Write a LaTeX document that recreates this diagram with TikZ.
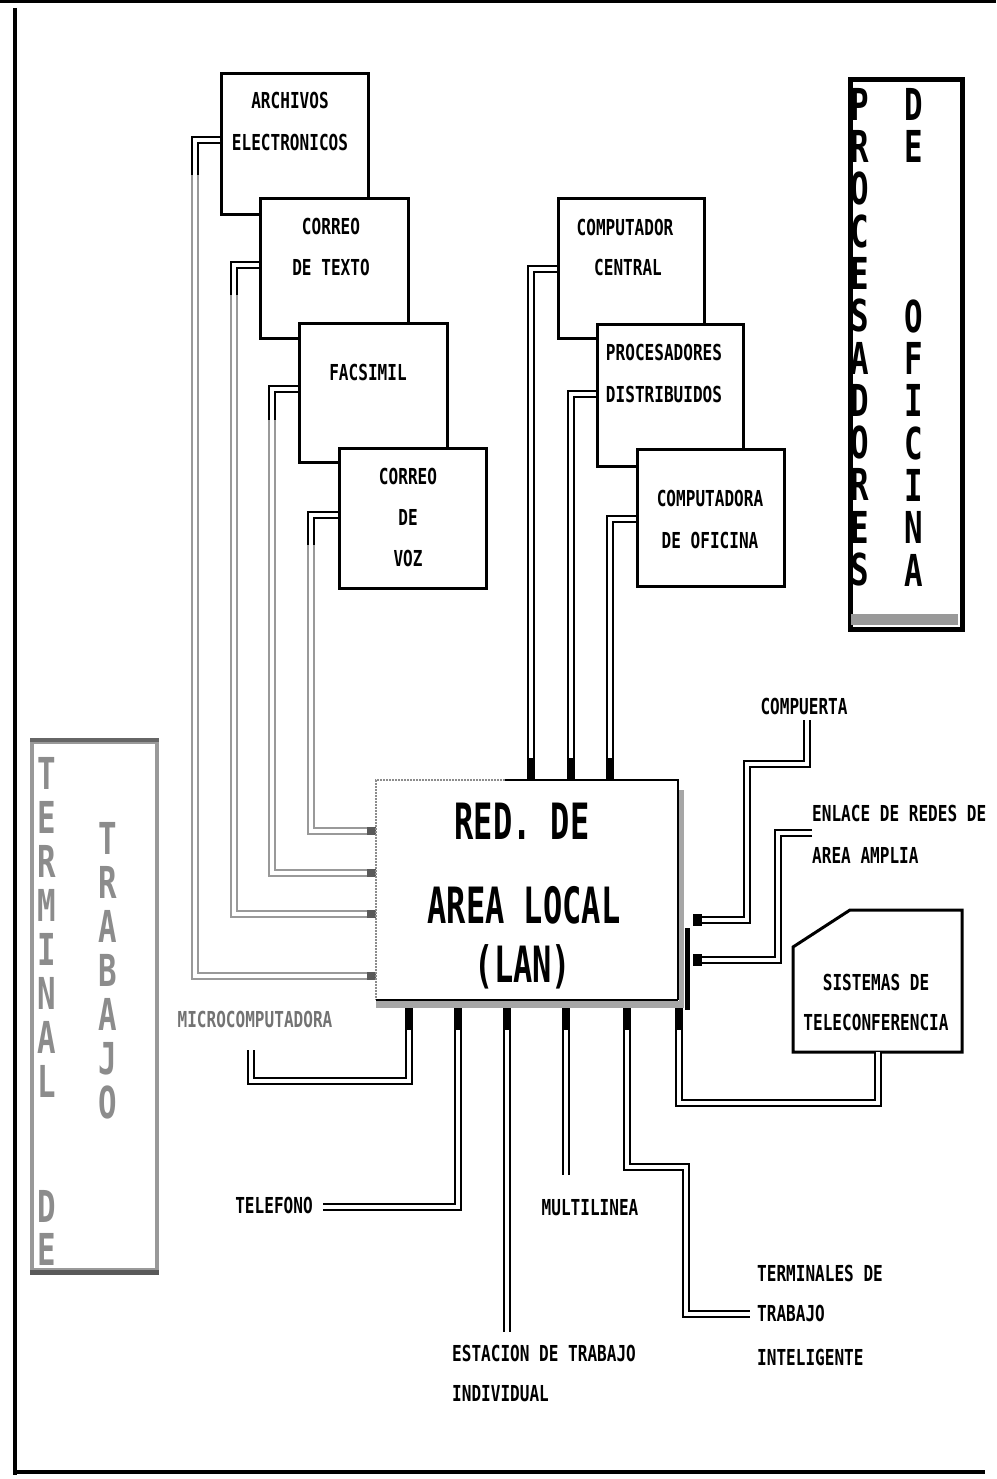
\documentclass[tikz,border=0pt]{standalone}
\usepackage{fontspec}
\newfontfamily\smallf{DejaVu Sans Mono}[FakeStretch=0.73]
\newfontfamily\bigf{DejaVu Sans Mono}[FakeStretch=0.64]
\newfontfamily\vertf{DejaVu Sans Mono}[FakeStretch=0.7]
\begin{document}
\begin{tikzpicture}[x=1pt,y=-1pt,
  lbl/.style={font=\smallf\bfseries\fontsize{22}{22}\selectfont, inner sep=0pt, text height=16pt, text depth=0pt},
  biglbl/.style={font=\bigf\bfseries\fontsize{50}{50}\selectfont, inner sep=0pt, text height=36.5pt, text depth=0pt},
  vcol/.style={font=\vertf\bfseries\fontsize{44}{42.3}\selectfont, inner sep=0pt, anchor=north, align=center},
  boxa/.style={draw, line width=3pt, fill=white, inner sep=0pt, anchor=north west},
  dblk/.style={draw=black, double=white, line width=1.4pt, double distance=4.5pt},
  dblg/.style={dblk, draw=black!40},
  endmark/.style={fill=black!65},
  stubb/.style={fill=black}]
\useasboundingbox (0,0) rectangle (996,1479);
% outer frame
\draw[line width=3pt] (0,2) -- (996,2);
\draw[line width=4pt] (15,8) -- (15,1475);
\draw[line width=4pt] (13,1472) -- (985,1472);

% left group of boxes
\node[boxa, minimum width=147pt, minimum height=141pt] (arch) at (220,72) {};
\node[boxa, minimum width=148pt, minimum height=140pt] (ctex) at (259,197) {};
\node[boxa, minimum width=148pt, minimum height=139pt] (facs) at (298,322) {};
\node[boxa, minimum width=147pt, minimum height=140pt] (cvoz) at (338,447) {};
% right group of boxes
\node[boxa, minimum width=146pt, minimum height=140pt] (ccen) at (557,197) {};
\node[boxa, minimum width=146pt, minimum height=142pt] (pdis) at (596,323) {};
\node[boxa, minimum width=147pt, minimum height=137pt] (cofi) at (636,448) {};

% LAN box (fill)
\node[draw=none, fill=white, minimum width=302pt, minimum height=220pt, anchor=north west, inner sep=0pt] (lan) at (376,780) {};

% left connectors (gray)
\draw[dblg] (arch.west |- 0,140) -| (195,976) -- (lan.west |- 0,976);
\draw[dblg] (ctex.west |- 0,265) -| (234,914) -- (lan.west |- 0,914);
\draw[dblg] (facs.west |- 0,389) -| (272,873) -- (lan.west |- 0,873);
\draw[dblg] (cvoz.west |- 0,515) -| (311,831) -- (lan.west |- 0,831);
\draw[dblk] (arch.west |- 0,140) -| (195,175);
\draw[dblk] (ctex.west |- 0,265) -| (234,295);
\draw[dblk] (facs.west |- 0,389) -| (272,420);
\draw[dblk] (cvoz.west |- 0,515) -| (311,545);
\fill[endmark] (367,972.3) rectangle (376,979.7);
\fill[endmark] (367,910.3) rectangle (376,917.7);
\fill[endmark] (367,869.3) rectangle (376,876.7);
\fill[endmark] (367,827.3) rectangle (376,834.7);

% right top connectors
\draw[dblk] (ccen.west |- 0,269) -| (lan.north -| 531,0);
\draw[dblk] (pdis.west |- 0,394) -| (lan.north -| 571,0);
\draw[dblk] (cofi.west |- 0,519) -| (lan.north -| 610,0);
\fill[stubb] (527.35,758) rectangle (534.65,780);
\fill[stubb] (567.35,758) rectangle (574.65,780);
\fill[stubb] (606.35,758) rectangle (613.65,780);

% teleconference box
\draw[line width=3pt, fill=white] (793,947) -- (850,910) -- (962,910) -- (962,1052) -- (793,1052) -- cycle;
\coordinate (teleb) at (878,1052);

% labels
\node[lbl, text=black!55] (micro) at (255,1019) {MICROCOMPUTADORA};
\node[lbl] (tel) at (274,1205) {TELEFONO};
\node[lbl, anchor=west] (est1) at (452,1353) {ESTACION DE TRABAJO};
\node[lbl, anchor=west] (est2) at (452,1393) {INDIVIDUAL};
\node[lbl] (mult) at (590,1207) {MULTILINEA};
\node[lbl, anchor=west] (term1) at (757,1273) {TERMINALES DE};
\node[lbl, anchor=west] (term2) at (757,1313) {TRABAJO};
\node[lbl, anchor=west] (term3) at (757,1357) {INTELIGENTE};
\node[lbl] (comp) at (804,706) {COMPUERTA};
\node[lbl, anchor=west] (enl1) at (812,813) {ENLACE DE REDES DE};
\node[lbl, anchor=west] (enl2) at (812,855) {AREA AMPLIA};
\node[lbl] (tele1) at (876,982) {SISTEMAS DE};
\node[lbl] (tele2) at (876,1022) {TELECONFERENCIA};
\coordinate (compb) at (807,720);

% bottom connectors
\draw[dblk] (lan.south -| 409,0) -- (409,1081) -- (251,1081) -- (251,1050);
\draw[dblk] (lan.south -| 458,0) |- (323,1207);
\draw[dblk] (lan.south -| 507,0) -- (507,1332);
\draw[dblk] (lan.south -| 566,0) -- (566,1175);
\draw[dblk] (lan.south -| 627,0) |- (686,1167) |- (750,1314);
\draw[dblk] (lan.south -| 679,0) |- (878,1103) -- (teleb);
\foreach \xx in {409,458,507,566,627,679} {
  \fill[stubb] (\xx-3.65,1008) rectangle (\xx+3.65,1030);
}

% right connectors
\draw[dblk] (compb) |- (747,764) |- (702,920);
\draw[dblk] (enl1.west |- 0,833) -| (778,960) -- (702,960);
\fill[stubb] (693,914.3) rectangle (702,925.7);
\fill[stubb] (693,954.3) rectangle (702,965.7);
\fill[stubb] (685,928) rectangle (690,1010);

% LAN edges
\draw[black!45, line width=1.5pt, dash pattern=on 2pt off 1pt] (505,780) -- (376,780) -- (376,1000);
\draw[line width=2pt] (505,780) -- (678,780) -- (678,1000);
\draw[line width=1.5pt] (376,1000) -- (678,1000);
\fill[black!35] (376,1001) rectangle (684,1008);
\fill[black!35] (679,790) rectangle (684,1008);

% texts in boxes
\node[lbl] (tarch1) at (290,101) {ARCHIVOS};
\node[lbl] (tarch2) at (290,143) {ELECTRONICOS};
\node[lbl] (tctex1) at (331,227) {CORREO};
\node[lbl] (tctex2) at (331,268) {DE TEXTO};
\node[lbl] (tfacs) at (368,372) {FACSIMIL};
\node[lbl] (tcvoz1) at (408,476) {CORREO};
\node[lbl] (tcvoz2) at (408,517) {DE};
\node[lbl] (tcvoz3) at (408,558) {VOZ};
\node[lbl] (tccen1) at (625,228) {COMPUTADOR};
\node[lbl] (tccen2) at (628,268) {CENTRAL};
\node[lbl] (tpdis1) at (664,352) {PROCESADORES};
\node[lbl] (tpdis2) at (664,394) {DISTRIBUIDOS};
\node[lbl] (tcofi1) at (710,498) {COMPUTADORA};
\node[lbl] (tcofi2) at (710,540) {DE OFICINA};

% LAN texts
\node[biglbl] (tl1) at (522,821) {RED. DE};
\node[biglbl] (tl2) at (524,905) {AREA LOCAL};
\node[biglbl] (tl3) at (523,964) {(LAN)};

% PROCESADORES DE OFICINA
\node[draw, line width=5pt, minimum width=112pt, minimum height=550pt, anchor=north west, inner sep=0pt] (proc) at (848,77) {};
\fill[black!40] (850.5,614) rectangle (957.5,624.5);
\node[vcol] (pv1) at (860,88) {P\\R\\O\\C\\E\\S\\A\\D\\O\\R\\E\\S};
\node[vcol] (pv2) at (914,88) {D\\E};
\node[vcol] (pv3) at (914,299.5) {O\\F\\I\\C\\I\\N\\A};

% TERMINAL DE TRABAJO
\node[draw=black!40, line width=4pt, minimum width=125pt, minimum height=528pt, anchor=north west, inner sep=0pt] (termb) at (30,740) {};
\draw[black!60, line width=4pt] (termb.north west) -- (termb.north east);
\draw[black!65, line width=5pt] (termb.south west) -- (termb.south east);
\node[vcol, text=black!45, font=\vertf\bfseries\fontsize{44}{44}\selectfont] (tv1) at (47,757) {T\\E\\R\\M\\I\\N\\A\\L};
\node[vcol, text=black!45, font=\vertf\bfseries\fontsize{44}{44}\selectfont] (tv2) at (108,822) {T\\R\\A\\B\\A\\J\\O};
\node[vcol, text=black!45, font=\vertf\bfseries\fontsize{44}{43}\selectfont] (tv3) at (47,1190) {D\\E};
\end{tikzpicture}
\end{document}
